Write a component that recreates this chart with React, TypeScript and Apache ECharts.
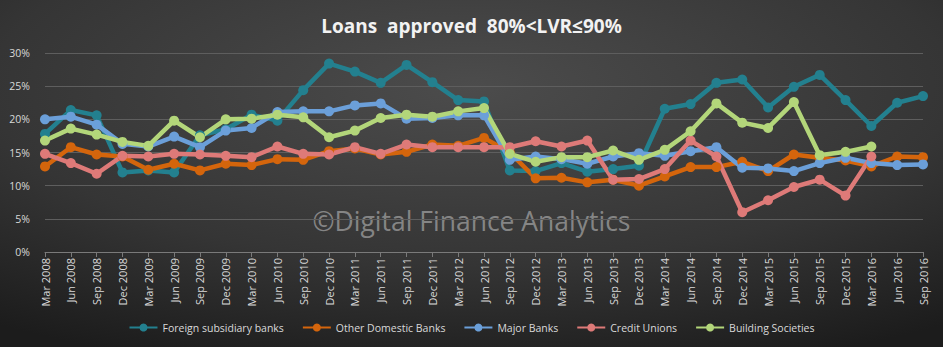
import React, { useEffect, useRef } from "react";
import * as echarts from "echarts";

const years = [2008, 2009, 2010, 2011, 2012, 2013, 2014, 2015, 2016];
const quarters = ["Mar", "Jun", "Sep", "Dec"];
const categories: string[] = [];
for (const y of years) for (const q of quarters) {
  if (y === 2016 && q === "Dec") continue;
  categories.push(`${q} ${y}`);
}

const foreign = [17.8, 21.4, 20.6, 12.0, 12.3, 12.0, 17.6, 18.5, 20.7, 19.8, 24.4, 28.4, 27.2, 25.5, 28.2, 25.6, 22.9, 22.7, 12.3, 12.2, 13.4, 12.1, 12.5, 13.0, 21.6, 22.3, 25.5, 26.0, 21.8, 24.9, 26.7, 22.9, 19.0, 22.5, 23.5];
const otherDomestic = [12.9, 15.8, 14.7, 14.4, 12.4, 13.3, 12.3, 13.3, 13.1, 14.0, 13.9, 15.2, 15.6, 14.7, 15.1, 16.2, 16.0, 17.2, 15.0, 11.1, 11.2, 10.5, 10.9, 10.0, 11.4, 12.8, 12.8, 13.6, 12.2, 14.7, 14.2, 13.8, 12.9, 14.4, 14.3];
const majorBanks = [20.0, 20.4, 19.2, 16.3, 15.9, 17.4, 15.8, 18.3, 18.7, 21.1, 21.2, 21.2, 22.1, 22.4, 20.1, 20.2, 20.6, 20.6, 13.9, 14.4, 14.0, 13.3, 14.4, 14.9, 14.5, 15.2, 15.8, 12.7, 12.6, 12.2, 13.4, 14.2, 13.4, 13.1, 13.2];
const creditUnions = [14.8, 13.4, 11.8, 14.5, 14.4, 14.8, 14.7, 14.5, 14.3, 15.9, 14.8, 14.7, 15.8, 14.8, 16.2, 15.8, 15.8, 15.8, 15.8, 16.7, 15.9, 16.8, 10.9, 11.0, 12.5, 16.8, 14.4, 6.0, 7.8, 9.8, 10.9, 8.5, 14.4, null, null];
const buildingSocieties = [16.8, 18.6, 17.7, 16.6, 16.0, 19.8, 17.3, 20.0, 20.1, 20.7, 20.3, 17.3, 18.3, 20.2, 20.7, 20.4, 21.2, 21.7, 14.8, 13.6, 14.3, 14.3, 15.3, 13.9, 15.4, 18.2, 22.4, 19.5, 18.7, 22.6, 14.6, 15.1, 15.9, null, null];

const seriesDefs = [
  { name: "Foreign subsidiary banks", data: foreign, color: "#23808f" },
  { name: "Other Domestic Banks", data: otherDomestic, color: "#d4650c" },
  { name: "Major Banks", data: majorBanks, color: "#6b9fd9" },
  { name: "Credit Unions", data: creditUnions, color: "#de7a78" },
  { name: "Building Societies", data: buildingSocieties, color: "#b3d67a" },
];

export default function App() {
  const ref = useRef<HTMLDivElement>(null);
  useEffect(() => {
    if (!ref.current) return;
    const chart = echarts.init(ref.current, null, { renderer: "svg" });
    chart.setOption({
      animation: false,
      backgroundColor: {
        type: "radial", x: 0.5, y: 0.25, r: 0.85,
        colorStops: [
          { offset: 0, color: "#4c4c4c" },
          { offset: 0.6, color: "#353535" },
          { offset: 1, color: "#1c1c1c" },
        ],
      },
      title: {
        text: "Loans  approved  80%<LVR\u226490%",
        left: "center",
        top: 11,
        textStyle: { color: "#f2f2f2", fontSize: 19, fontWeight: "bold", fontFamily: "Open Sans" },
      },
      graphic: [
        {
          type: "text",
          left: "center",
          top: 207,
          style: {
            text: "\u00a9Digital Finance Analytics",
            fill: "rgba(200,200,200,0.55)",
            fontSize: 26.5,
            fontFamily: "Open Sans",
          },
          z: 0,
        },
      ],
      legend: {
        top: 317,
        left: "center",
        itemWidth: 28,
        itemHeight: 10,
        itemGap: 18,
        textStyle: { color: "#d9d9d9", fontSize: 10.5, fontFamily: "Open Sans" },
        data: seriesDefs.map((s) => s.name),
      },
      grid: { left: 45, right: 20, top: 53, bottom: 95 },
      xAxis: {
        type: "category",
        data: categories,
        boundaryGap: false,
        axisLine: { lineStyle: { color: "#7a7a7a" } },
        axisTick: { show: true, alignWithLabel: true, lineStyle: { color: "#7a7a7a" } },
        axisLabel: { rotate: 90, color: "#d9d9d9", fontSize: 11, fontFamily: "Open Sans", interval: 0, margin: 6 },
      },
      yAxis: {
        type: "value",
        min: 0,
        max: 30,
        interval: 5,
        axisLine: { show: false },
        axisTick: { show: false },
        axisLabel: { formatter: "{value}%", color: "#d9d9d9", fontSize: 10.5, fontFamily: "Open Sans", margin: 15 },
        splitLine: { lineStyle: { color: "#5e5e5e", width: 1 } },
      },
      series: seriesDefs.map((s) => ({
        name: s.name,
        type: "line",
        data: s.data,
        color: s.color,
        lineStyle: { width: 4.5, color: s.color },
        symbol: "circle",
        symbolSize: 10,
        itemStyle: { color: s.color },
        z: 3,
      })),
    });
    return () => chart.dispose();
  }, []);
  return <div ref={ref} style={{ position: "absolute", left: 0, top: 0, width: 943, height: 347 }} />;
}
